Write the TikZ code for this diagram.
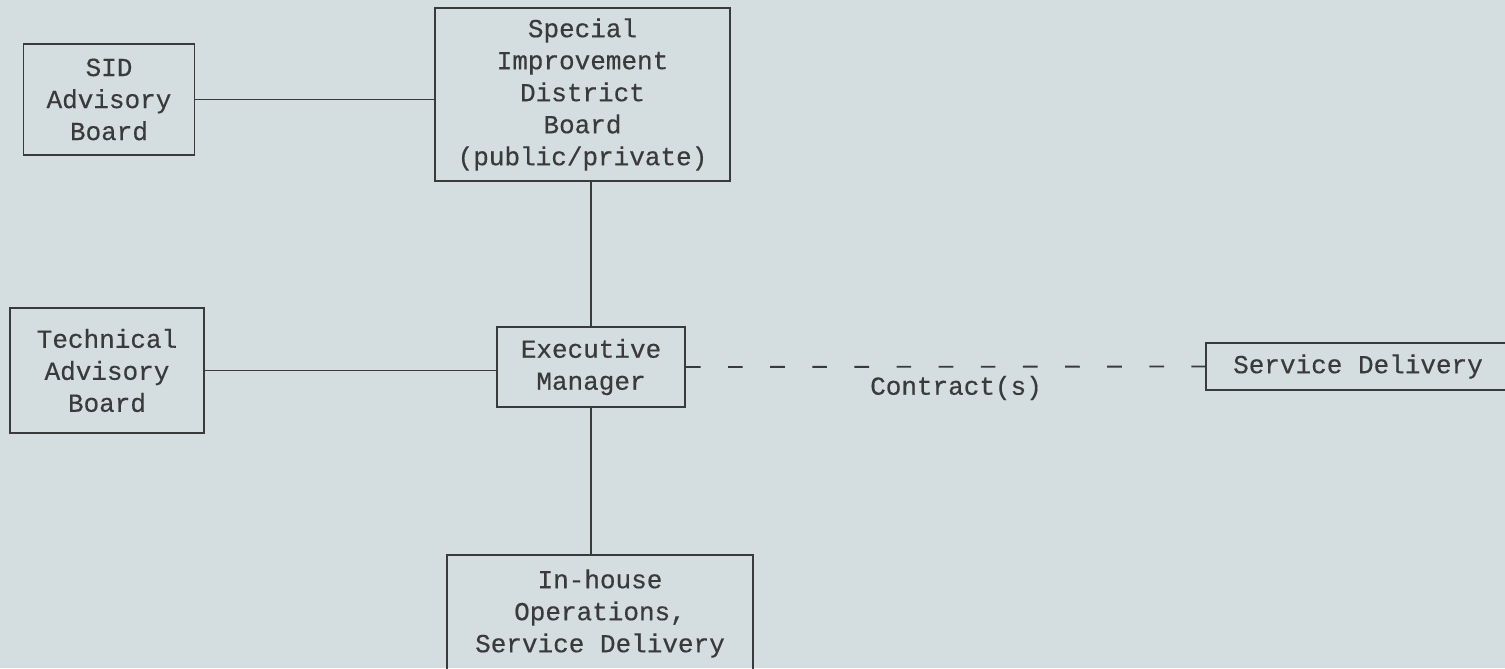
\documentclass[tikz,border=0pt]{standalone}
\usepackage{fontspec}
\setmainfont{Liberation Mono}[FakeBold=0.4]
\definecolor{paper}{RGB}{212,221,224}
\definecolor{ink}{RGB}{58,58,58}
\begin{document}
\begin{tikzpicture}[x=0.75pt,y=-0.75pt,
  box/.style={draw=ink,line width=1.3pt,text=ink,align=center,inner sep=0pt,
    font=\fontsize{19.5}{24}\selectfont},
  link/.style={draw=ink,line width=1.4pt},
  dashlink/.style={draw=ink,line width=1.4pt,dash pattern=on 11pt off 20.6pt}]
\fill[paper] (0,0) rectangle (1505,668);
\useasboundingbox (0,0) rectangle (1505,668);
\begin{scope}
\clip (0,0) rectangle (1505,668);
\node[box,minimum width=128.25pt,minimum height=83.25pt] (sid) at (109,99.5) {SID\\Advisory\\Board};
\node[box,minimum width=221.25pt,minimum height=129.75pt] (sidb) at (582.5,94.5) {Special\\Improvement\\District\\Board\\(public/private)};
\node[box,minimum width=145.5pt,minimum height=93.75pt] (tech) at (107,370.5) {Technical\\Advisory\\Board};
\node[box,minimum width=141pt,minimum height=60pt] (exec) at (591,367) {Executive\\Manager};
\node[box,minimum width=228pt,minimum height=35.25pt] (sd) at (1358,366.5) {Service Delivery};
\node[box,minimum width=229.5pt,minimum height=87.75pt] (inh) at (600,613.5) {In-house\\Operations,\\Service Delivery};
\node[text=ink,font=\fontsize{19.5}{24}\selectfont,inner sep=0pt] (con) at (956,388) {Contract(s)};
\draw[link] (sid.east) -- (sid.east -| sidb.west);
\draw[link] (exec.north) -- (exec.north |- sidb.south);
\draw[link] (tech.east) -- (tech.east -| exec.west);
\draw[link] (exec.south) -- (exec.south |- inh.north);
\draw[dashlink] (exec.east) -- (sd.west);
\end{scope}
\end{tikzpicture}
\end{document}
